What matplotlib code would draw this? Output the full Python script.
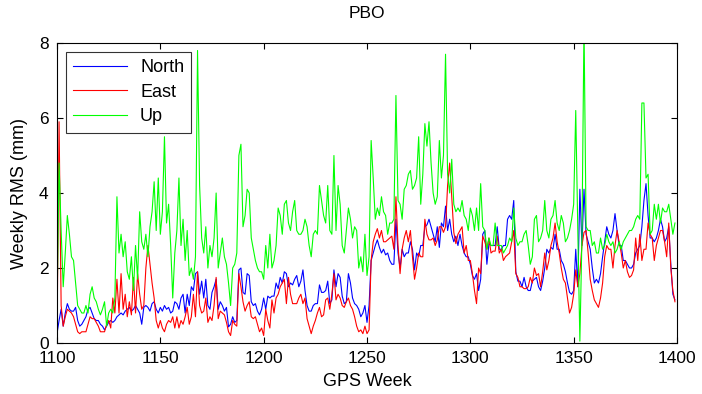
import matplotlib

matplotlib.use("Agg")
import matplotlib.pyplot as plt
import numpy as np

plt.rcParams["font.family"] = ["Liberation Sans", "DejaVu Sans"]

WEEKS = np.arange(1100, 1400)

NORTH = [
    0.25, 0.6, 0.9, 0.45, 0.8, 1.05, 0.9, 0.85, 0.85, 0.95, 0.6, 0.45, 0.5, 0.6, 0.7, 0.9, 0.95, 0.8, 0.65, 0.6, 0.6, 0.5, 0.45, 0.35, 0.45, 0.55,
    0.6, 0.55, 0.6, 0.7, 0.75, 0.8, 0.75, 0.85, 0.9, 0.95, 0.85, 0.9, 1.0, 0.9, 0.8, 0.5, 0.95, 1.0, 0.95, 0.85, 1.05, 1.1, 0.9, 0.8,
    0.95, 0.85, 1.0, 0.9, 0.95, 0.8, 0.85, 1.1, 1.05, 0.9, 1.2, 1.3, 0.8, 1.3, 1.0, 1.5, 1.4, 1.85, 1.9, 1.3, 1.65, 1.2, 1.7, 1.0,
    0.9, 1.35, 1.5, 1.7, 0.9, 1.1, 1.0, 0.85, 0.95, 0.43, 0.5, 0.7, 0.55, 0.6, 1.95, 2.0, 1.35, 1.3, 1.85, 1.8, 1.1, 1.0, 1.05, 0.85, 0.75,
    0.9, 1.2, 0.9, 1.25, 1.2, 1.25, 1.25, 1.6, 1.45, 1.75, 1.6, 1.9, 1.85, 1.5, 1.6, 1.55, 1.7, 1.8, 1.5, 1.65, 1.95, 1.4, 1.0, 0.85,
    0.85, 1.0, 1.05, 1.05, 1.55, 1.35, 1.35, 1.4, 1.65, 1.05, 1.15, 1.95, 1.5, 1.85, 1.75, 1.25, 1.05, 1.1, 1.85, 1.6, 1.2, 1.05, 1.0, 0.9,
    0.7, 0.8, 1.0, 0.55, 1.0, 2.2, 2.4, 2.6, 2.75, 2.55, 2.4, 2.5, 2.35, 2.4, 2.2, 2.1, 2.1, 3.3, 2.4, 2.0, 2.5, 2.3, 2.4, 2.4,
    2.7, 2.5, 1.95, 2.4, 2.3, 2.6, 2.6, 3.1, 3.15, 3.3, 3.1, 2.9, 2.7, 3.1, 2.55, 3.2, 3.1, 3.65, 3.0, 3.3, 2.9, 2.7, 2.85, 2.6, 2.9,
    2.6, 2.4, 2.3, 2.3, 2.1, 1.8, 1.7, 1.85, 1.4, 1.7, 2.9, 3.0, 2.1, 2.65, 2.6, 2.6, 2.6, 3.1, 2.5, 2.5, 2.6, 2.6, 3.3, 3.4,
    3.3, 3.8, 1.9, 1.65, 1.65, 1.5, 1.75, 1.5, 1.4, 1.4, 1.65, 1.7, 1.75, 1.5, 1.4, 1.65, 2.0, 2.5, 2.4, 2.55, 2.5, 2.9, 2.5, 2.5,
    2.2, 2.1, 1.9, 1.6, 1.35, 1.3, 1.4, 2.5, 1.5, 4.1, 2.6, 4.1, 2.9, 2.7, 2.5, 2.0, 1.6, 1.7, 1.6, 1.85, 2.3, 2.7, 3.1, 2.9,
    2.8, 3.0, 3.45, 3.0, 2.6, 2.6, 2.2, 2.2, 2.1, 2.0, 2.0, 2.1, 2.4, 2.5, 2.6, 3.1, 3.8, 4.25, 3.4, 2.8, 2.8, 2.7, 2.8, 3.0, 3.3, 3.1, 2.7, 2.8, 3.1, 2.1, 1.3, 1.15,
]

EAST = [
    0.1, 5.9, 1.0, 0.45, 0.7, 0.9, 0.85, 0.8, 0.7, 0.5, 0.3, 0.25, 0.3, 0.3, 0.3, 0.5, 0.7, 0.65, 0.65, 0.55, 0.45, 0.3, 0.3, 0.3, 0.5, 0.6,
    0.4, 1.2, 0.8, 1.7, 0.8, 1.85, 0.9, 1.3, 0.7, 1.1, 0.75, 1.75, 0.8, 1.85, 1.3, 0.9, 1.0, 2.0, 2.6, 2.1, 1.6, 1.2, 0.6, 0.4,
    0.6, 0.4, 0.3, 0.5, 0.6, 0.55, 0.7, 0.4, 0.7, 0.4, 0.6, 0.5, 0.7, 0.95, 0.5, 0.7, 1.3, 0.7, 1.9, 1.0, 0.8, 0.85, 1.2, 0.55,
    0.7, 0.6, 1.0, 1.75, 0.65, 0.85, 0.8, 0.75, 0.55, 0.3, 0.2, 0.6, 0.5, 0.45, 1.85, 1.5, 1.1, 0.85, 1.0, 1.1, 0.7, 0.65, 0.7, 0.5, 0.3,
    0.4, 0.2, 0.9, 0.6, 0.4, 1.15, 0.8, 1.2, 1.3, 1.5, 1.6, 1.7, 1.05, 1.75, 1.3, 1.05, 1.05, 1.05, 1.2, 1.3, 1.05, 1.2, 0.65, 0.45,
    0.25, 0.45, 0.6, 0.8, 0.95, 0.7, 0.75, 1.15, 1.2, 0.9, 1.3, 1.85, 1.15, 1.3, 1.2, 1.0, 0.95, 1.1, 1.2, 1.0, 0.9, 0.7, 0.45, 0.3,
    0.35, 0.25, 0.45, 0.25, 0.35, 2.2, 2.7, 2.9, 3.05, 2.8, 3.0, 2.7, 2.7, 2.75, 2.8, 2.85, 2.5, 3.9, 2.6, 1.85, 2.5, 2.8, 3.0, 2.7,
    3.0, 2.3, 1.7, 2.0, 2.4, 2.3, 2.3, 3.3, 2.9, 2.75, 2.75, 2.8, 2.6, 2.75, 3.1, 3.1, 2.95, 3.1, 4.2, 4.8, 3.9, 2.95, 2.65, 2.9, 3.0,
    3.1, 2.4, 2.6, 2.2, 2.2, 1.85, 1.4, 1.05, 2.0, 1.85, 2.85, 2.7, 2.5, 2.8, 2.4, 2.45, 2.45, 2.85, 2.4, 2.5, 2.2, 2.3, 2.35, 2.4,
    2.7, 3.0, 1.85, 1.75, 1.5, 1.5, 1.45, 1.45, 1.5, 1.75, 1.6, 2.0, 1.8, 1.85, 1.5, 1.9, 2.4, 1.95, 2.2, 2.6, 2.8, 3.2, 2.7, 2.4,
    2.0, 1.7, 1.6, 1.2, 0.8, 0.95, 1.3, 1.95, 1.5, 1.85, 2.6, 2.95, 3.0, 2.4, 1.7, 1.4, 1.15, 1.05, 0.95, 1.2, 1.6, 2.3, 2.6, 2.5,
    2.5, 2.0, 2.6, 3.0, 2.7, 2.4, 2.0, 2.2, 1.9, 1.75, 1.8, 1.95, 2.8, 2.2, 2.9, 2.2, 2.5, 2.5, 3.2, 2.9, 2.8, 2.2, 2.6, 2.8, 3.0, 3.0, 2.7, 2.3, 3.2, 2.0, 1.4, 1.1,
]

UP = [
    0.9, 4.8, 3.0, 1.5, 2.4, 3.4, 2.9, 2.3, 2.2, 1.6, 1.0, 0.9, 0.8, 0.8, 1.0, 0.8, 1.3, 1.5, 1.2, 1.1, 0.9, 0.75, 0.9, 1.1, 0.45, 0.8,
    0.9, 0.8, 1.2, 3.9, 2.4, 2.9, 2.3, 2.7, 1.9, 1.7, 2.3, 1.4, 2.6, 1.7, 3.5, 2.7, 2.5, 2.9, 2.3, 3.1, 3.5, 4.3, 3.0, 4.4,
    2.9, 3.5, 5.5, 3.2, 3.7, 2.6, 1.2, 2.4, 3.0, 4.4, 2.6, 3.3, 2.2, 3.0, 1.8, 2.0, 1.7, 2.3, 7.8, 4.2, 2.8, 2.4, 3.1, 2.0,
    2.6, 2.3, 2.8, 4.0, 2.0, 2.4, 2.8, 2.3, 2.1, 1.6, 1.0, 2.0, 2.1, 2.4, 5.0, 5.3, 3.1, 3.4, 4.1, 4.0, 2.8, 2.5, 2.2, 2.0, 1.9,
    1.9, 1.7, 2.6, 2.0, 2.9, 2.0, 2.2, 2.6, 3.6, 3.4, 2.9, 3.7, 3.8, 3.2, 3.0, 3.5, 3.8, 3.0, 2.9, 2.9, 3.0, 3.3, 3.1, 2.6,
    2.3, 2.9, 3.0, 2.9, 4.2, 3.8, 3.4, 3.2, 4.2, 3.0, 2.9, 5.0, 3.0, 4.2, 3.7, 2.6, 2.4, 3.0, 3.6, 3.3, 2.8, 3.1, 3.0, 2.0,
    2.3, 1.9, 2.9, 1.8, 2.3, 5.4, 4.4, 3.3, 3.6, 3.4, 3.9, 3.5, 3.4, 2.9, 3.2, 3.2, 3.3, 6.6, 3.8, 3.7, 3.3, 4.1, 4.2, 4.5,
    4.6, 4.1, 4.2, 4.4, 5.5, 3.7, 4.5, 5.85, 5.25, 5.9, 4.8, 4.0, 3.7, 3.9, 5.4, 4.4, 5.0, 7.7, 4.5, 4.0, 4.9, 3.7, 3.5, 3.6, 3.5,
    3.8, 3.4, 3.3, 3.0, 3.6, 3.4, 3.0, 3.6, 3.0, 4.25, 3.1, 3.0, 2.5, 2.8, 2.6, 2.6, 3.2, 2.6, 2.6, 2.6, 2.4, 2.5, 2.6, 2.8,
    2.7, 3.6, 2.8, 2.6, 2.7, 2.7, 2.9, 3.0, 2.6, 2.1, 2.3, 3.3, 3.4, 2.7, 2.8, 3.0, 3.8, 3.0, 2.8, 3.3, 3.4, 3.8, 3.2, 3.0,
    3.4, 3.2, 2.7, 2.8, 3.0, 3.3, 3.7, 6.2, 3.0, 0.05, 2.8, 8.5, 3.1, 3.0, 3.0, 2.6, 2.7, 2.4, 2.4, 2.8, 2.5, 2.6, 2.9, 2.7,
    2.6, 2.7, 2.4, 2.5, 2.7, 2.5, 2.7, 2.8, 2.9, 3.0, 3.0, 3.1, 3.3, 3.4, 3.3, 6.4, 6.4, 4.4, 4.5, 2.9, 3.0, 3.7, 3.3, 3.7, 3.2, 3.6, 3.5, 3.5, 3.7, 3.3, 2.9, 3.2,
]


def main() -> None:
    fig = plt.figure(figsize=(7.02, 3.94), dpi=100)
    ax = fig.add_axes([0.0812, 0.1294, 0.8832, 0.7615])
    ax.plot(WEEKS, NORTH, color="#0000ff", lw=0.8, label="North")
    ax.plot(WEEKS, EAST, color="#ff0000", lw=0.8, label="East")
    ax.plot(WEEKS, UP, color="#00ff00", lw=0.8, label="Up")

    ax.set_xlim(1100, 1400)
    ax.set_ylim(0, 8)
    ax.set_xticks(np.arange(1100, 1401, 50))
    ax.set_yticks(np.arange(0, 9, 2))
    ax.tick_params(direction="in", top=True, right=True, labelsize=12.5, length=4, pad=6)
    ax.set_xlabel("GPS Week", fontsize=13, labelpad=5)
    ax.set_ylabel("Weekly RMS (mm)", fontsize=13, labelpad=8)
    ax.set_title("PBO", fontsize=12.5, pad=18)

    leg = ax.legend(loc="upper left", fontsize=13, handlelength=3.0, frameon=True,
                    fancybox=False, edgecolor="black", borderpad=0.4,
                    labelspacing=0.42, handletextpad=0.7, borderaxespad=0.5)
    leg.get_frame().set_linewidth(0.8)

    fig.savefig("out.png", dpi=100)


if __name__ == "__main__":
    main()
